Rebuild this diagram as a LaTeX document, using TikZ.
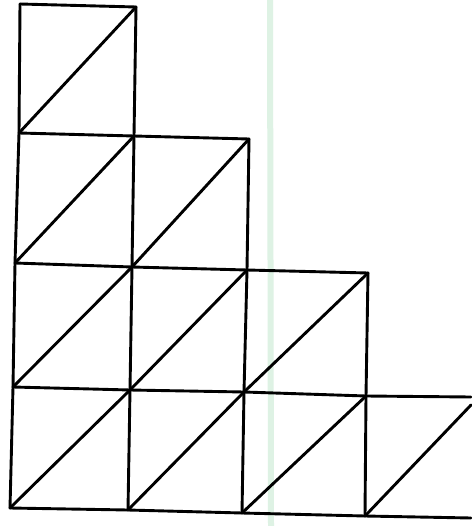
\documentclass[tikz,border=0pt]{standalone}
\begin{document}
\begin{tikzpicture}[x=1pt,y=-1pt,
  gridline/.style={line width=2.9pt, black, line join=round, line cap=round},
  scanmark/.style={line width=6pt, color={rgb,255:red,222;green,242;blue,228}}]
\useasboundingbox[fill=white] (0,0) rectangle (471,526);
% scanner artefact
\coordinate (g1) at (270,0);
\coordinate (g2) at (271,526);
\draw[scanmark] (g1) -- (g2);
% grid points: (pColumn-Row)
\coordinate (p00) at (20,4);   \coordinate (p10) at (136,7);
\coordinate (p01) at (19,133); \coordinate (p11) at (134,136); \coordinate (p21) at (249,139);
\coordinate (p02) at (15,263); \coordinate (p12) at (132,267); \coordinate (p22) at (247,270); \coordinate (p32) at (368,273);
\coordinate (p03) at (13,387); \coordinate (p13) at (130,390); \coordinate (p23) at (244,392); \coordinate (p33) at (366,396); \coordinate (e3) at (471,397);
\coordinate (p04) at (10,508); \coordinate (p14) at (128,510); \coordinate (p24) at (242,513); \coordinate (p34) at (365,516); \coordinate (e4) at (471,518);
\coordinate (d4) at (471,405);
% rows
\draw[gridline] (p00) -- (p10);
\draw[gridline] (p01) -- (p11) -- (p21);
\draw[gridline] (p02) -- (p12) -- (p22) -- (p32);
\draw[gridline] (p03) -- (p13) -- (p23) -- (p33) -- (e3);
\draw[gridline] (p04) -- (p14) -- (p24) -- (p34) -- (e4);
% columns
\draw[gridline] (p00) -- (p01) -- (p02) -- (p03) -- (p04);
\draw[gridline] (p10) -- (p11) -- (p12) -- (p13) -- (p14);
\draw[gridline] (p21) -- (p22) -- (p23) -- (p24);
\draw[gridline] (p32) -- (p33) -- (p34);
% diagonals
\draw[gridline] (p01) -- (p10);
\draw[gridline] (p02) -- (p11);
\draw[gridline] (p12) -- (p21);
\draw[gridline] (p03) -- (p12);
\draw[gridline] (p13) -- (p22);
\draw[gridline] (p23) -- (p32);
\draw[gridline] (p04) -- (p13);
\draw[gridline] (p14) -- (p23);
\draw[gridline] (p24) -- (p33);
\draw[gridline] (p34) -- (d4);
\end{tikzpicture}
\end{document}
